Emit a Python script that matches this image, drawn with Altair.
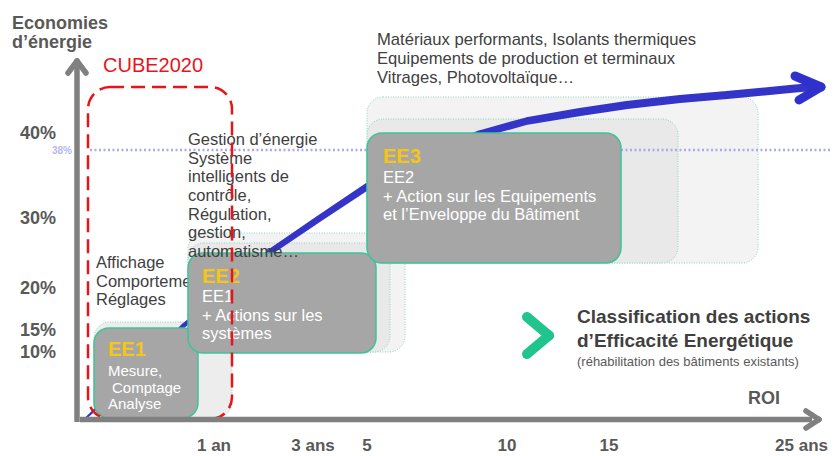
import altair as alt
import pandas as pd

# ---------- canvas (diagram coordinates = page pixels) ----------
W, H = 822, 448
OX, OY = 8, 8
FONT = "Liberation Sans"

# ---------- data ----------
# ghost (background) boxes
ghost_x = [94, 188, 188, 367, 367]
ghost_x2 = [232, 405, 390, 758, 678]
ghost_y = [322, 233, 243, 97, 119]
ghost_y2 = [418, 352, 352, 263, 263]
ghost_fill = ["#ededed", "#f3f3f3", "#e9e9e9", "#f3f3f3", "#e9e9e9"]

# main boxes EE1, EE2, EE3
box_x = [94, 188, 367]
box_x2 = [198, 376, 621]
box_y = [328, 253, 133]
box_y2 = [418, 353, 263]

# CUBE2020 frame
cube_x, cube_x2, cube_y, cube_y2 = [88], [232], [87], [419]

# blue arrow path (trail) and widths
arrow_x = [86, 100, 140, 183, 230, 270, 320, 368, 420, 480, 527, 580, 627, 680, 727, 790, 812]
arrow_y = [418, 405, 370, 326, 288, 252, 218, 186, 158, 134, 121, 112, 105, 99, 95, 89, 87]
arrow_w = [2, 2.5, 3.5, 4.5, 5, 6, 6.5, 7, 7, 7.5, 7.5, 8, 8, 8, 8, 8, 8]

# y tick labels
ytick_text = ["40%", "30%", "20%", "15%", "10%"]
ytick_y = [139, 224, 294, 336, 358]
# x tick labels
xtick_text = ["1 an", "3 ans", "5", "10", "15"]
xtick_x = [214, 313, 367, 507, 609]
xlast_text = ["25 ans"]

# annotations
affich_text = ["Affichage", "Comporteme", "Réglages"]
affich_y = [268, 287, 305]
gest_text = ["Gestion d’énergie", "Système", "intelligents de", "contrôle,",
             "Régulation,", "gestion,", "automatisme…"]
gest_y = [145, 164, 182, 201, 220, 238, 257]
mat_text = ["Matériaux performants, Isolants thermiques",
            "Equipements de production et terminaux",
            "Vitrages, Photovoltaïque…"]
mat_y = [45, 64, 83]

head_text = ["EE1", "EE2", "EE3"]
head_x = [108, 202, 383]
head_y = [356, 283, 163]

ee1_body = ["Mesure,", "Comptage", "Analyse"]
ee1_x = [108, 112, 108]
ee1_y = [376, 393, 409]
ee2_body = ["EE1", "+ Actions sur les", "systèmes"]
ee2_y = [302, 321, 339]
ee3_body = ["EE2", "+ Action sur les Equipements", "et l’Enveloppe du Bâtiment"]
ee3_y = [183, 202, 220]

class_title = ["Classification des actions", "d’Efficacité Energétique"]
class_y = [323, 347]
class_sub = ["(réhabilitation des bâtiments existants)"]

# ---------- helpers ----------
xs = alt.Scale(domain=[OX, OX + W], nice=False, zero=False)
ys = alt.Scale(domain=[OY, OY + H], reverse=True, nice=False, zero=False)


def enc_xy():
    return dict(x=alt.X("x:Q", scale=xs, axis=None), y=alt.Y("y:Q", scale=ys, axis=None))


def rects(df, **kw):
    return alt.Chart(df).mark_rect(**kw).encode(
        **enc_xy(), x2=alt.X2("x2:Q"), y2=alt.Y2("y2:Q"))


def rules(df, **kw):
    return alt.Chart(df).mark_rule(**kw).encode(
        **enc_xy(), x2=alt.X2("x2:Q"), y2=alt.Y2("y2:Q"))


def texts(xv, yv, tv, **kw):
    if not isinstance(xv, list):
        xv = [xv] * len(tv)
    df = pd.DataFrame({"x": xv, "y": yv, "t": tv})
    base = dict(font=FONT, baseline="alphabetic", align="left")
    base.update(kw)
    return alt.Chart(df).mark_text(**base).encode(**enc_xy(), text="t:N")


# ---------- layers ----------
ghosts = alt.Chart(pd.DataFrame({"x": ghost_x, "x2": ghost_x2, "y": ghost_y,
                                 "y2": ghost_y2, "f": ghost_fill, "o": range(5)})
                   ).mark_rect(cornerRadius=16, stroke="#93d5c0", strokeWidth=1,
                               strokeDash=[1, 1.5]).encode(
    **enc_xy(), x2="x2:Q", y2="y2:Q", fill=alt.Fill("f:N", scale=None),
    order="o:Q")

dotted = rules(pd.DataFrame({"x": [90], "x2": [838], "y": [150], "y2": [150]}),
               color="#a9a9ec", strokeWidth=2.5, strokeDash=[2, 2.5])

trail = alt.Chart(pd.DataFrame({"x": arrow_x, "y": arrow_y, "w": arrow_w,
                                "o": range(len(arrow_x))})
                  ).mark_trail(color="#3434c8").encode(
    **enc_xy(), size=alt.Size("w:Q", scale=None, legend=None), order="o:Q")

blue_head = rules(pd.DataFrame({"x": [795, 799], "y": [76, 100],
                                "x2": [821, 821], "y2": [87, 87]}),
                  color="#3030cc", strokeWidth=9, strokeCap="round")

main_boxes = rects(pd.DataFrame({"x": box_x, "x2": box_x2, "y": box_y, "y2": box_y2}),
                   fill="#a6a6a6", stroke="#3ec39a", strokeWidth=1.5, cornerRadius=15)

cube = rects(pd.DataFrame({"x": cube_x, "x2": cube_x2, "y": cube_y, "y2": cube_y2}),
             fillOpacity=0, stroke="#e8141c", strokeWidth=2.5, strokeDash=[14, 7],
             cornerRadius=22)

axes = rules(pd.DataFrame({"x": [77, 80], "y": [64, 419.5],
                           "x2": [77, 812], "y2": [422, 419.5]}),
             color="#808080", strokeWidth=5.5)
axis_heads = rules(pd.DataFrame({"x": [68, 86, 806, 806], "y": [73, 73, 411, 428],
                                 "x2": [77, 77, 819, 819], "y2": [61, 61, 419.5, 419.5]}),
                   color="#808080", strokeWidth=5.5, strokeCap="round")

chevron = rules(pd.DataFrame({"x": [527, 527], "y": [317, 354],
                              "x2": [549, 549], "y2": [335.5, 335.5]}),
                color="#22c48d", strokeWidth=10, strokeCap="round")

GRAY = "#595959"
DARK = "#404040"
layers = [
    ghosts, dotted, trail, blue_head,
    texts(96, affich_y, affich_text, fontSize=16.5, color=DARK),
    texts(377, mat_y, mat_text, fontSize=16.6, color=DARK),
    main_boxes,
    texts(188, gest_y, gest_text, fontSize=16.5, color=DARK),
    texts(head_x, head_y, head_text, fontSize=20, fontWeight="bold", color="#f5c518"),
    texts(ee1_x, ee1_y, ee1_body, fontSize=15, color="white"),
    texts(202, ee2_y, ee2_body, fontSize=16.5, color="white"),
    texts(383, ee3_y, ee3_body, fontSize=16.5, color="white"),
    cube, axes, axis_heads, chevron,
    texts(12, [29, 48], ["Economies", "d’énergie"], fontSize=18, fontWeight="bold", color=GRAY),
    texts(103, [72], ["CUBE2020"], fontSize=20, color="#e8141c"),
    texts(56, ytick_y, ytick_text, fontSize=18, fontWeight="bold", color=GRAY, align="right"),
    texts(72, [154], ["38%"], fontSize=10, fontWeight="bold", color="#b8b8ee", align="right"),
    texts(xtick_x, [451] * len(xtick_text), xtick_text, fontSize=17, fontWeight="bold",
          color=GRAY, align="center"),
    texts(828, [451], xlast_text, fontSize=17, fontWeight="bold", color=GRAY, align="right"),
    texts(748, [404], ["ROI"], fontSize=18, fontWeight="bold", color=GRAY),
    texts(577, class_y, class_title, fontSize=19, fontWeight="bold", color=DARK),
    texts(577, [366], class_sub, fontSize=13, color=GRAY),
]

chart = alt.layer(*layers).properties(
    width=W, height=H, padding=0, autosize=alt.AutoSizeParams(type="none"),
    background="white"
).configure_view(strokeWidth=0)

chart.save("out.html", embed_options={"renderer": "svg", "actions": False})
